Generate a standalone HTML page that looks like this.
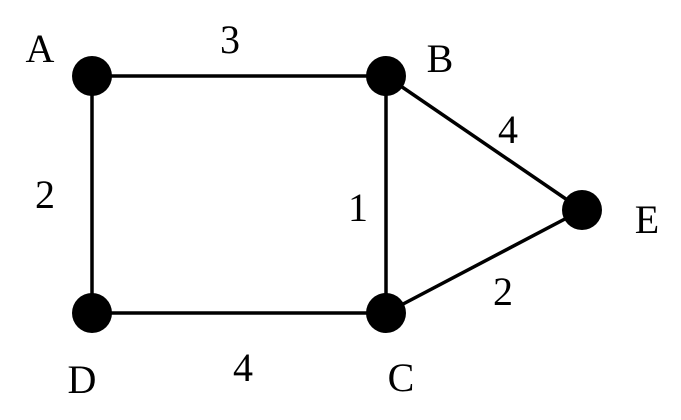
<!DOCTYPE html>
<html><head><style>body{margin:0;background:#fff}</style></head><body>
<svg width="681" height="415" xmlns="http://www.w3.org/2000/svg" font-family="Liberation Serif, serif" font-size="40" fill="#000">
<g stroke="#000" stroke-width="3.5">
<line x1="92" y1="76" x2="386" y2="76"/>
<line x1="92" y1="76" x2="92" y2="313"/>
<line x1="92" y1="313" x2="386" y2="313"/>
<line x1="386" y1="76" x2="386" y2="313"/>
<line x1="386" y1="76" x2="582" y2="210"/>
<line x1="386" y1="313" x2="582" y2="210"/>
</g>
<circle cx="92" cy="76" r="20"/>
<circle cx="386" cy="76" r="20"/>
<circle cx="386" cy="313" r="20"/>
<circle cx="92" cy="313" r="20"/>
<circle cx="582" cy="210" r="20"/>
<g text-anchor="middle">
<text x="40" y="62">A</text>
<text x="440" y="72">B</text>
<text x="647" y="233">E</text>
<text x="82" y="393">D</text>
<text x="401" y="391">C</text>
<text x="230" y="53">3</text>
<text x="45" y="208">2</text>
<text x="358" y="221">1</text>
<text x="508" y="143">4</text>
<text x="243" y="381">4</text>
<text x="503" y="305">2</text>
</g>
</svg>
</body></html>
